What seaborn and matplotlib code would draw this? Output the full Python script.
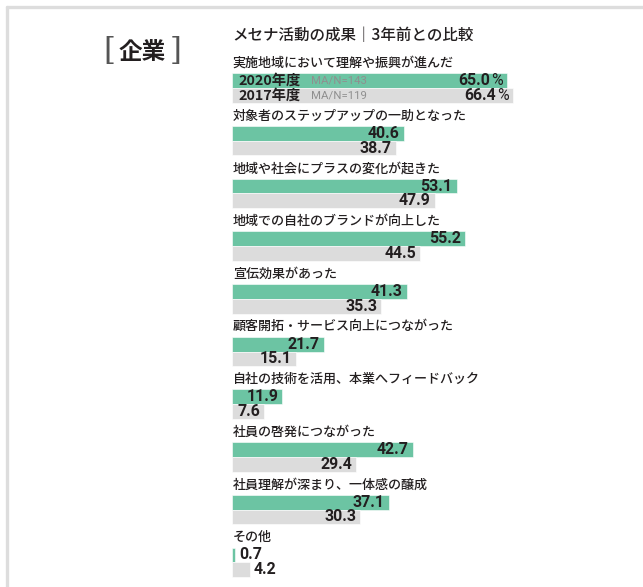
import matplotlib
matplotlib.use("Agg")
import matplotlib.pyplot as plt
import seaborn as sns
import pandas as pd
from matplotlib.lines import Line2D

items = [
    "実施地域において理解や振興が進んだ",
    "対象者のステップアップの一助となった",
    "地域や社会にプラスの変化が起きた",
    "地域での自社のブランドが向上した",
    "宣伝効果があった",
    "顧客開拓・サービス向上につながった",
    "自社の技術を活用、本業へフィードバック",
    "社員の啓発につながった",
    "社員理解が深まり、一体感の醸成",
    "その他",
]
years = ["2020年度", "2017年度"]
sample_notes = ["MA/N=143", "MA/N=119"]
values_2020 = [65.0, 40.6, 53.1, 55.2, 41.3, 21.7, 11.9, 42.7, 37.1, 0.7]
values_2017 = [66.4, 38.7, 47.9, 44.5, 35.3, 15.1, 7.6, 29.4, 30.3, 4.2]
title = "メセナ活動の成果｜3年前との比較"
side_label = "企業"

GREEN = "#6cc4a3"
GREY = "#dcdcdc"
TEXT = "#231f20"

sns.set_theme(style="white")
plt.rcParams["font.family"] = ["Noto Sans CJK JP", "DejaVu Sans"]

df = pd.DataFrame({
    "item": items * 2,
    "value": values_2020 + values_2017,
    "year": [years[0]] * len(items) + [years[1]] * len(items),
})

W, H = 643, 587
fig = plt.figure(figsize=(W / 100, H / 100), dpi=100)
ax = fig.add_axes([0, 0, 1, 1])

sns.barplot(data=df, y="item", x="value", hue="year", orient="h",
            palette=[GREEN, GREY], width=0.56, dodge=True, saturation=1,
            legend=False, ax=ax, edgecolor="white", linewidth=0.4)

# pixel mapping: x pixel 232 -> 0, 4.23 px/unit ; bar center pixel 88 -> 0, 52.7 px/category
px_per_x = 4.23
px_per_cat = 52.7
x0_px, y0_px = 232, 88
ax.set_xlim(-x0_px / px_per_x, (W - x0_px) / px_per_x)
ax.set_ylim((H - y0_px) / px_per_cat, -y0_px / px_per_cat)
ax.axis("off")

# category labels above each pair
for i, name in enumerate(items):
    ax.text(0.2, i - 0.47, name, fontsize=9.4, color=TEXT, va="center", ha="left",
            fontweight="medium")

fig.canvas.draw()
renderer = fig.canvas.get_renderer()

num_font = ["Roboto", "DejaVu Sans"]
NUM_SIZE = 11.4
for ci, cont in enumerate(ax.containers):
    for bi, bar in enumerate(cont.patches):
        w = bar.get_width()
        yc = bar.get_y() + bar.get_height() / 2
        if bi == 0:
            pct = ax.annotate("%", xy=(w, yc), xytext=(-3, 0), textcoords="offset points",
                              ha="right", va="center", fontsize=NUM_SIZE, color=TEXT,
                              family=num_font)
            ext = pct.get_window_extent(renderer)
            pw = ext.width * 72 / fig.dpi
            ax.annotate(f"{w:.1f}", xy=(w, yc), xytext=(-4 - pw, 0), textcoords="offset points",
                        ha="right", va="center", fontsize=NUM_SIZE, color=TEXT,
                        fontweight="bold", family=num_font)
            ax.annotate(years[ci], xy=(0, yc), xytext=(5, 0), textcoords="offset points",
                        ha="left", va="center", fontsize=10.3, color=TEXT, fontweight="bold")
            ax.annotate(sample_notes[ci], xy=(0, yc), xytext=(57, 0), textcoords="offset points",
                        ha="left", va="center", fontsize=8.2, color="#8f8f8f", family=num_font)
        elif w < 5:
            ax.annotate(f"{w:.1f}", xy=(w, yc), xytext=(3, 0), textcoords="offset points",
                        ha="left", va="center", fontsize=NUM_SIZE, color=TEXT,
                        fontweight="bold", family=num_font)
        else:
            ax.annotate(f"{w:.1f}", xy=(w, yc), xytext=(-3, 0), textcoords="offset points",
                        ha="right", va="center", fontsize=NUM_SIZE, color=TEXT,
                        fontweight="bold", family=num_font)

# title and side label (figure pixel coords)
fig.text(232 / W, 1 - 36 / H, title, fontsize=11.2, color=TEXT, va="center", ha="left",
         fontweight="medium")
fig.text(142 / W, 1 - 52 / H, side_label, fontsize=17, color=TEXT, va="center", ha="center",
         fontweight="bold")
fig.text(109 / W, 1 - 52 / H, "[", fontsize=22, color="#555555", va="center", ha="center",
         family=["DejaVu Serif"], fontweight="light")
fig.text(176 / W, 1 - 52 / H, "]", fontsize=22, color="#555555", va="center", ha="center",
         family=["DejaVu Serif"], fontweight="light")

# frame lines (top and left)
fig.add_artist(Line2D([7 / W, 1], [1 - 7 / H, 1 - 7 / H], transform=fig.transFigure,
                      color="#dddddd", lw=2.4))
fig.add_artist(Line2D([7 / W, 7 / W], [0, 1 - 7 / H], transform=fig.transFigure,
                      color="#dddddd", lw=2.4))

fig.savefig("out.png", dpi=100)
